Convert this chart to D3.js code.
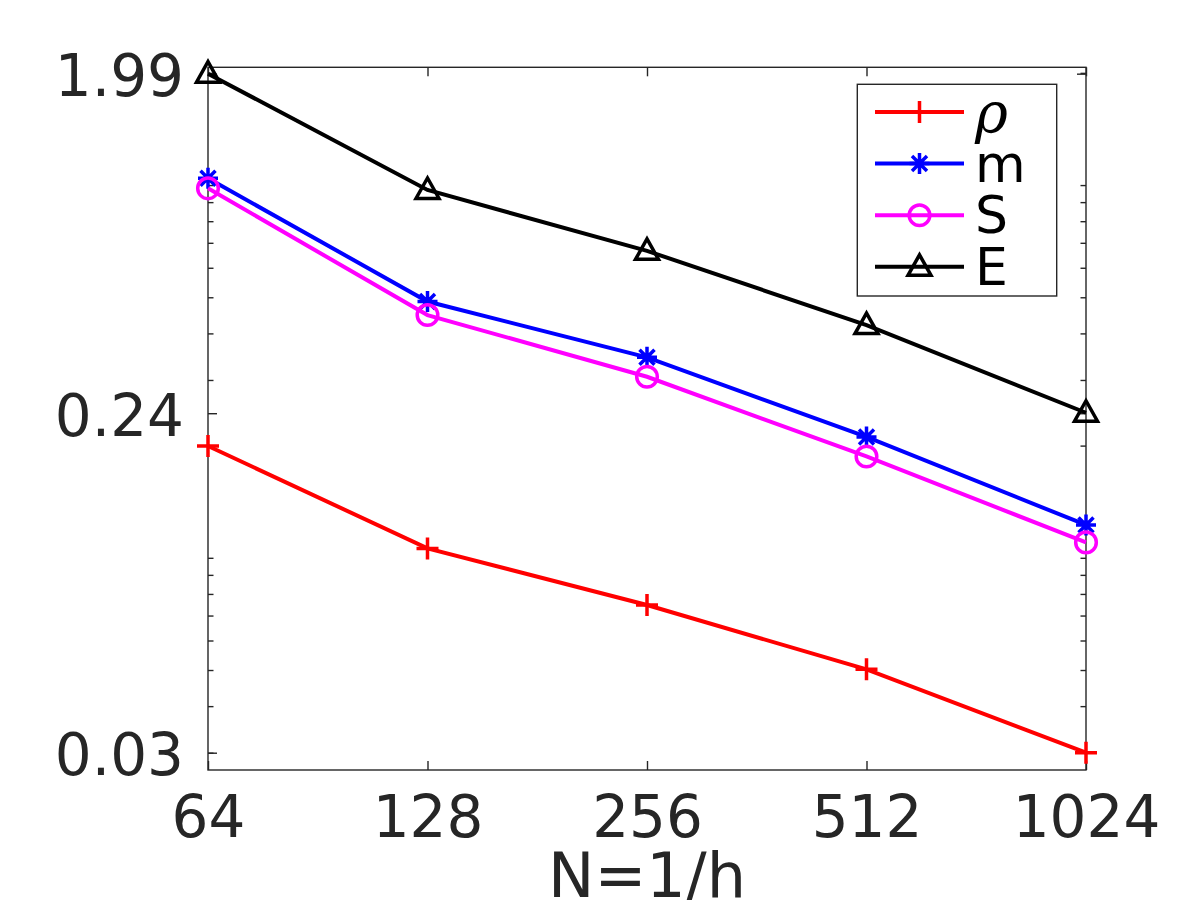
<!DOCTYPE html>
<html>
<head>
<meta charset="utf-8">
<script src="https://cdn.jsdelivr.net/npm/d3@7"></script>
<style>
  body { margin: 0; background: #fff; }
  svg { display: block; }
  text { font-family: "DejaVu Sans", sans-serif; }
</style>
</head>
<body>
<svg id="chart" width="1200" height="900"></svg>
<script>
// data
const gridSizes = [64, 128, 256, 512, 1024];
const rhoErr = [0.1995, 0.106, 0.0747, 0.0502, 0.03];
const mErr = [1.043, 0.487, 0.345, 0.211, 0.1225];
const sErr = [0.980, 0.448, 0.306, 0.187, 0.110];
const eErr = [1.99, 0.970, 0.666, 0.421, 0.245];
const seriesNames = ["ρ", "m", "S", "E"];
const seriesColors = ["#ff0000", "#0000ff", "#ff00ff", "#000000"];
const seriesMarkers = ["plus", "star", "circle", "triangle"];
const xTickValues = [64, 128, 256, 512, 1024];
const yTickValues = [0.03, 0.2443, 1.99];
const yTickLabels = ["0.03", "0.24", "1.99"];
const xLabel = "N=1/h";

const series = [rhoErr, mErr, sErr, eErr].map((vals, i) => ({
    name: seriesNames[i],
    color: seriesColors[i],
    marker: seriesMarkers[i],
    values: vals.map((v, j) => ({x: gridSizes[j], y: v}))
}));

const plotLeft = 208, plotRight = 1086, plotTop = 67.3, plotBottom = 770;
const axisColor = "#262626";

const svg = d3.select("#chart");
svg.append("rect").attr("width", 1200).attr("height", 900).attr("fill", "#fff");

const x = d3.scaleLog().base(2).domain([64, 1024]).range([plotLeft, plotRight]);
const y = d3.scaleLog().domain([0.02696, 2.07]).range([plotBottom, plotTop]);

// minor ticks (log decades), both sides
const minorTicks = y.ticks().filter(v => v >= 0.0275 && v <= 2.06);
const g = svg.append("g");

function styleAxis(sel) {
    sel.select(".domain").remove();
    sel.selectAll("line").attr("stroke", axisColor).attr("stroke-width", 1.4);
    sel.selectAll("text")
        .attr("fill", axisColor)
        .style("font-size", "58px")
        .style("font-family", "'DejaVu Sans', sans-serif");
}

g.append("g").attr("transform", `translate(${plotLeft},0)`)
    .call(d3.axisLeft(y).tickValues(minorTicks).tickSize(-5.5).tickFormat(""))
    .call(styleAxis);
g.append("g").attr("transform", `translate(${plotRight},0)`)
    .call(d3.axisRight(y).tickValues(minorTicks).tickSize(-5.5).tickFormat(""))
    .call(styleAxis);

const yAxisL = g.append("g").attr("transform", `translate(${plotLeft},0)`)
    .call(d3.axisLeft(y).tickValues(yTickValues).tickSize(-9).tickPadding(24)
        .tickFormat((d, i) => yTickLabels[i]))
    .call(styleAxis);
yAxisL.selectAll("text").attr("dy", "0.38em");

g.append("g").attr("transform", `translate(${plotRight},0)`)
    .call(d3.axisRight(y).tickValues(yTickValues).tickSize(-9).tickFormat(""))
    .call(styleAxis);

g.append("g").attr("transform", `translate(0,${plotBottom})`)
    .call(d3.axisBottom(x).tickValues(xTickValues).tickSize(-9).tickPadding(25.5)
        .tickFormat(d3.format("d")))
    .call(styleAxis);
g.append("g").attr("transform", `translate(0,${plotTop})`)
    .call(d3.axisTop(x).tickValues(xTickValues).tickSize(-9).tickFormat(""))
    .call(styleAxis);

// box
svg.append("rect")
    .attr("x", plotLeft).attr("y", plotTop)
    .attr("width", plotRight - plotLeft).attr("height", plotBottom - plotTop)
    .attr("fill", "none").attr("stroke", axisColor).attr("stroke-width", 1.4);

svg.append("text")
    .attr("x", (plotLeft + plotRight) / 2).attr("y", 897)
    .attr("text-anchor", "middle")
    .attr("fill", axisColor)
    .style("font-size", "62px")
    .text(xLabel);

// marker shapes
function drawMarker(sel, type, color) {
    sel.attr("fill", "none").attr("stroke", color).attr("stroke-width", 3.5);
    if (type === "plus") {
        sel.append("path").attr("d", "M-11,0H11M0,-11V11");
    } else if (type === "star") {
        sel.append("path").attr("d", "M-10,0H10M0,-10.5V10.5M-7.5,-7.5L7.5,7.5M-7.5,7.5L7.5,-7.5");
    } else if (type === "circle") {
        sel.append("circle").attr("r", 10.3);
    } else {
        sel.append("path").attr("d", "M0,-12L-11.5,8.5H11.5Z").attr("stroke-linejoin", "miter");
    }
}

const line = d3.line().x(d => x(d.x)).y(d => y(d.y));

const sg = svg.selectAll(".series")
    .data(series)
    .enter()
    .append("g")
    .attr("class", "series");

sg.append("path")
    .attr("d", d => line(d.values))
    .attr("fill", "none")
    .attr("stroke", d => d.color)
    .attr("stroke-width", 4);

sg.each(function (s) {
    d3.select(this).selectAll(".mk")
        .data(s.values)
        .enter()
        .append("g")
        .attr("class", "mk")
        .attr("transform", d => `translate(${x(d.x)},${y(d.y)})`)
        .each(function () { drawMarker(d3.select(this), s.marker, s.color); });
});

// legend
const lg = svg.append("g");
lg.append("rect")
    .attr("x", 857.3).attr("y", 84.3)
    .attr("width", 199.4).attr("height", 211.7)
    .attr("fill", "#fff").attr("stroke", axisColor).attr("stroke-width", 1.4);

const items = lg.selectAll(".item")
    .data(series)
    .enter()
    .append("g")
    .attr("class", "item")
    .attr("transform", (d, i) => `translate(0,${112 + i * 51.6})`);

items.append("line")
    .attr("x1", 875).attr("x2", 964)
    .attr("stroke", d => d.color).attr("stroke-width", 4);
items.append("g")
    .attr("transform", "translate(919.5,0)")
    .each(function (d) { drawMarker(d3.select(this), d.marker, d.color); });
items.append("text")
    .attr("x", 975).attr("dy", "0.35em")
    .attr("fill", "#000")
    .style("font-size", (d, i) => i === 0 ? "56px" : "52px")
    .style("font-style", (d, i) => i === 0 ? "italic" : "normal")
    .style("font-family", (d, i) => i === 0 ? "'DejaVu Serif', serif" : "'DejaVu Sans', sans-serif")
    .text(d => d.name);
</script>
</body>
</html>
